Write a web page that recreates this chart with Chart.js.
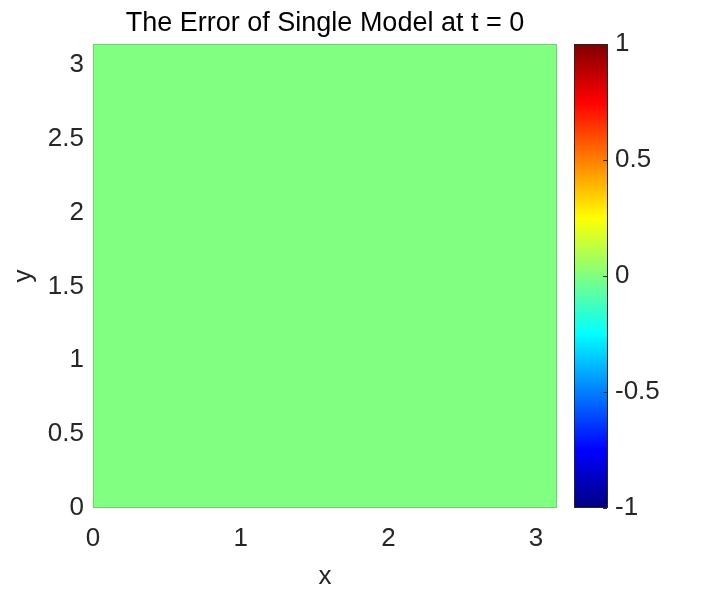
<!DOCTYPE html>
<html>
<head>
<meta charset="utf-8">
<script src="https://cdn.jsdelivr.net/npm/chart.js@4"></script>
<style>
  html, body { margin: 0; padding: 0; background: #fff; }
  #wrap { position: relative; width: 709px; height: 591px; }
  #main { position: absolute; left: 0; top: 0; }
  #cbar { position: absolute; left: 560px; top: 0; }
</style>
</head>
<body>
<div id="wrap">
  <canvas id="main" width="709" height="591"></canvas>
  <canvas id="cbar" width="149" height="591"></canvas>
</div>
<script>
// grid of the error field (cell edges) and its values, all zero at t = 0
const xEdges = [0, Math.PI];
const yEdges = [0, Math.PI];
const errorValues = [[0]];

const xTicks = [0, 1, 2, 3];
const yTicks = [0, 0.5, 1, 1.5, 2, 2.5, 3];
const cbTicks = [-1, -0.5, 0, 0.5, 1];
const cLimits = [-1, 1];

// jet colormap stops: position, r, g, b
const jetStops = [
  [0.000, 0.0, 0.0, 0.5],
  [0.125, 0.0, 0.0, 1.0],
  [0.375, 0.0, 1.0, 1.0],
  [0.625, 1.0, 1.0, 0.0],
  [0.875, 1.0, 0.0, 0.0],
  [1.000, 0.5, 0.0, 0.0]
];

const FONT = '"Liberation Sans", Arial, Helvetica, sans-serif';
const TEXT = '#262626';

function jetColor(v) {
  var t = (v - cLimits[0]) / (cLimits[1] - cLimits[0]);
  t = Math.max(0, Math.min(1, t));
  for (var k = 1; k < jetStops.length; k++) {
    var a = jetStops[k - 1], b = jetStops[k];
    if (t <= b[0]) {
      var f = (t - a[0]) / (b[0] - a[0]);
      var r = Math.round(255 * (a[1] + f * (b[1] - a[1])));
      var g = Math.round(255 * (a[2] + f * (b[2] - a[2])));
      var bl = Math.round(255 * (a[3] + f * (b[3] - a[3])));
      return 'rgb(' + r + ',' + g + ',' + bl + ')';
    }
  }
  return 'rgb(128,0,0)';
}

function plainLabel(value) {
  return String(value);
}

var heatmapPlugin = {
  id: 'heatmap',
  beforeDatasetsDraw: function (chart) {
    var ctx = chart.ctx, xs = chart.scales.x, ys = chart.scales.y;
    ctx.save();
    errorValues.forEach(function (row, j) {
      row.forEach(function (v, i) {
        var x0 = xs.getPixelForValue(xEdges[i]);
        var x1 = xs.getPixelForValue(xEdges[i + 1]);
        var y0 = ys.getPixelForValue(yEdges[j]);
        var y1 = ys.getPixelForValue(yEdges[j + 1]);
        ctx.fillStyle = jetColor(v);
        ctx.fillRect(x0, y1, x1 - x0, y0 - y1);
        ctx.strokeStyle = 'rgba(60,140,60,0.35)';
        ctx.lineWidth = 1;
        ctx.strokeRect(Math.round(x0) + 0.5, Math.round(y1) + 0.5, x1 - x0 - 1, y0 - y1 - 1);
      });
    });
    ctx.restore();
  }
};

new Chart(document.getElementById('main').getContext('2d'), {
  type: 'scatter',
  data: { datasets: [{ data: [] }] },
  options: {
    responsive: false,
    animation: false,
    devicePixelRatio: 1,
    layout: { padding: { left: 0, right: 152, top: 0, bottom: 0 } },
    plugins: {
      legend: { display: false },
      tooltip: { enabled: false },
      title: {
        display: true,
        fullSize: false,
        text: 'The Error of Single Model at t = 0',
        color: '#000',
        font: { family: FONT, size: 27, weight: 'normal' },
        padding: { top: 7, bottom: 4.6 }
      }
    },
    scales: {
      x: {
        type: 'linear',
        min: xEdges[0],
        max: xEdges[xEdges.length - 1],
        afterBuildTicks: function (scale) {
          scale.ticks = xTicks.map(function (v) { return { value: v }; });
        },
        afterFit: function (scale) { scale.height = 83; },
        grid: { display: false, drawTicks: false },
        border: { display: false },
        ticks: {
          color: TEXT,
          padding: 15,
          maxRotation: 0,
          callback: plainLabel,
          font: { family: FONT, size: 26 }
        },
        title: {
          display: true,
          text: 'x',
          color: TEXT,
          font: { family: FONT, size: 26 },
          padding: { top: 0, bottom: -1 }
        }
      },
      y: {
        type: 'linear',
        min: yEdges[0],
        max: yEdges[yEdges.length - 1],
        afterBuildTicks: function (scale) {
          scale.ticks = yTicks.map(function (v) { return { value: v }; });
        },
        afterFit: function (scale) { scale.width = 93; },
        grid: { display: false, drawTicks: false },
        border: { display: false },
        ticks: {
          color: TEXT,
          padding: 9,
          callback: plainLabel,
          font: { family: FONT, size: 26 }
        },
        title: {
          display: true,
          text: 'y',
          color: TEXT,
          font: { family: FONT, size: 26 },
          padding: { top: 8, bottom: 0 }
        }
      }
    }
  },
  plugins: [heatmapPlugin]
});

var colorbarPlugin = {
  id: 'colorbar',
  beforeDatasetsDraw: function (chart) {
    var ctx = chart.ctx, a = chart.chartArea, ys = chart.scales.y;
    ctx.save();
    for (var py = Math.floor(a.top); py < Math.ceil(a.bottom); py++) {
      ctx.fillStyle = jetColor(ys.getValueForPixel(py + 0.5));
      ctx.fillRect(a.left, py, a.right - a.left, 1);
    }
    ctx.strokeStyle = TEXT;
    ctx.lineWidth = 1;
    ctx.strokeRect(Math.round(a.left) + 0.5, Math.round(a.top) + 0.5,
      Math.round(a.right - a.left) - 1, Math.round(a.bottom - a.top) - 1);
    cbTicks.forEach(function (v) {
      var p = Math.round(ys.getPixelForValue(v)) + 0.5;
      ctx.beginPath();
      ctx.moveTo(a.right - 1, p);
      ctx.lineTo(a.right - 5, p);
      ctx.stroke();
    });
    ctx.restore();
  }
};

new Chart(document.getElementById('cbar').getContext('2d'), {
  type: 'scatter',
  data: { datasets: [{ data: [] }] },
  options: {
    responsive: false,
    animation: false,
    devicePixelRatio: 1,
    layout: { padding: { left: 14, right: 0, top: 44, bottom: 83 } },
    plugins: { legend: { display: false }, tooltip: { enabled: false } },
    scales: {
      x: { display: false },
      y: {
        position: 'right',
        min: cLimits[0],
        max: cLimits[1],
        afterBuildTicks: function (scale) {
          scale.ticks = cbTicks.map(function (v) { return { value: v }; });
        },
        afterFit: function (scale) { scale.width = 101; },
        grid: { display: false, drawTicks: false },
        border: { display: false },
        ticks: {
          color: TEXT,
          padding: 7,
          callback: plainLabel,
          font: { family: FONT, size: 26 }
        }
      }
    }
  },
  plugins: [colorbarPlugin]
});
</script>
</body>
</html>
